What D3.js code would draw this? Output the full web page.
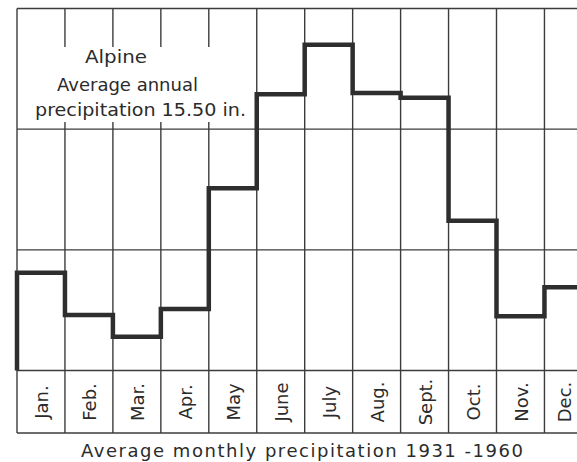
<!DOCTYPE html>
<html>
<head>
<meta charset="utf-8">
<script src="https://cdn.jsdelivr.net/npm/d3@7"></script>
<style>
  html, body { margin: 0; padding: 0; background: #fff; }
  svg { display: block; }
  text { font-family: "DejaVu Sans", sans-serif; fill: #2b2b2b; }
</style>
</head>
<body>
<div id="chart"></div>
<script>
// Alpine, average monthly precipitation 1931-1960 (inches)
const months = ['Jan.', 'Feb.', 'Mar.', 'Apr.', 'May', 'June', 'July', 'Aug.', 'Sept.', 'Oct.', 'Nov.', 'Dec.'];
const precip = [0.81, 0.46, 0.28, 0.51, 1.51, 2.29, 2.70, 2.30, 2.26, 1.24, 0.45, 0.69];
const yTicks = [0, 1, 2, 3];
const boxLines = ['Alpine', 'Average annual', 'precipitation 15.50 in.'];
const caption = 'Average monthly precipitation 1931 -1960';

const width = 577, height = 462;
const plotLeft = 17, plotTop = 8.5, base = 370.5, labelBottom = 433;
const gridColor = '#3c3c3c';

const svg = d3.select('#chart').append('svg')
  .attr('width', width)
  .attr('height', height);

const x = d3.scaleBand()
  .domain(months)
  .range([plotLeft, plotLeft + 12 * 47.95]);

const y = d3.scaleLinear()
  .domain([0, 3])
  .range([base, plotTop]);

// horizontal grid lines (plus bottom of the label strip)
svg.append('g').selectAll('line')
  .data(yTicks)
  .enter().append('line')
  .attr('x1', plotLeft).attr('x2', width)
  .attr('y1', d => y(d)).attr('y2', d => y(d))
  .attr('stroke', gridColor).attr('stroke-width', 1.4);

svg.append('line')
  .attr('x1', plotLeft).attr('x2', width)
  .attr('y1', labelBottom).attr('y2', labelBottom)
  .attr('stroke', gridColor).attr('stroke-width', 1.4);

// month boundaries run down through the label strip
const edges = months.map(m => x(m)).concat([x.range()[1]]);
svg.append('g').selectAll('line')
  .data(edges)
  .enter().append('line')
  .attr('x1', d => d).attr('x2', d => d)
  .attr('y1', plotTop).attr('y2', labelBottom)
  .attr('stroke', gridColor).attr('stroke-width', 1.4);

// white patch behind the station note
svg.append('rect')
  .attr('x', plotLeft + 2).attr('y', 47)
  .attr('width', 233).attr('height', 75)
  .attr('fill', '#fff');

const note = [
  { x: 85, y: 63, len: 62 },
  { x: 57, y: 91, len: 141 },
  { x: 35, y: 116, len: 211 }
];
svg.append('g').selectAll('text')
  .data(boxLines)
  .enter().append('text')
  .attr('x', (d, i) => note[i].x)
  .attr('y', (d, i) => note[i].y)
  .attr('textLength', (d, i) => note[i].len)
  .attr('lengthAdjust', 'spacingAndGlyphs')
  .style('font-size', '17px')
  .text(d => d);

// step line
const pts = [[x.range()[0], 0]]
  .concat(months.map((m, i) => [x(m), precip[i]]))
  .concat([[x.range()[1], precip[precip.length - 1]]]);

const step = d3.line()
  .x(d => d[0])
  .y(d => y(d[1]))
  .curve(d3.curveStepAfter);

svg.append('path')
  .datum(pts)
  .attr('d', step)
  .attr('fill', 'none')
  .attr('stroke', '#2e2e2e')
  .attr('stroke-width', 4.5)
  .attr('stroke-linejoin', 'miter');

// month labels, rotated (last one kept inside the window)
svg.append('g').selectAll('text')
  .data(months)
  .enter().append('text')
  .attr('transform', d => {
    const cx = Math.min(x(d) + x.bandwidth() / 2 + 1, width - 12);
    return 'translate(' + cx + ',402) rotate(-90)';
  })
  .attr('text-anchor', 'middle')
  .attr('dy', '0.36em')
  .style('font-size', '18px')
  .text(d => d);

svg.append('text')
  .attr('x', 81)
  .attr('y', 457)
  .attr('textLength', 442)
  .attr('lengthAdjust', 'spacing')
  .style('font-size', '18px')
  .text(caption);
</script>
</body>
</html>
